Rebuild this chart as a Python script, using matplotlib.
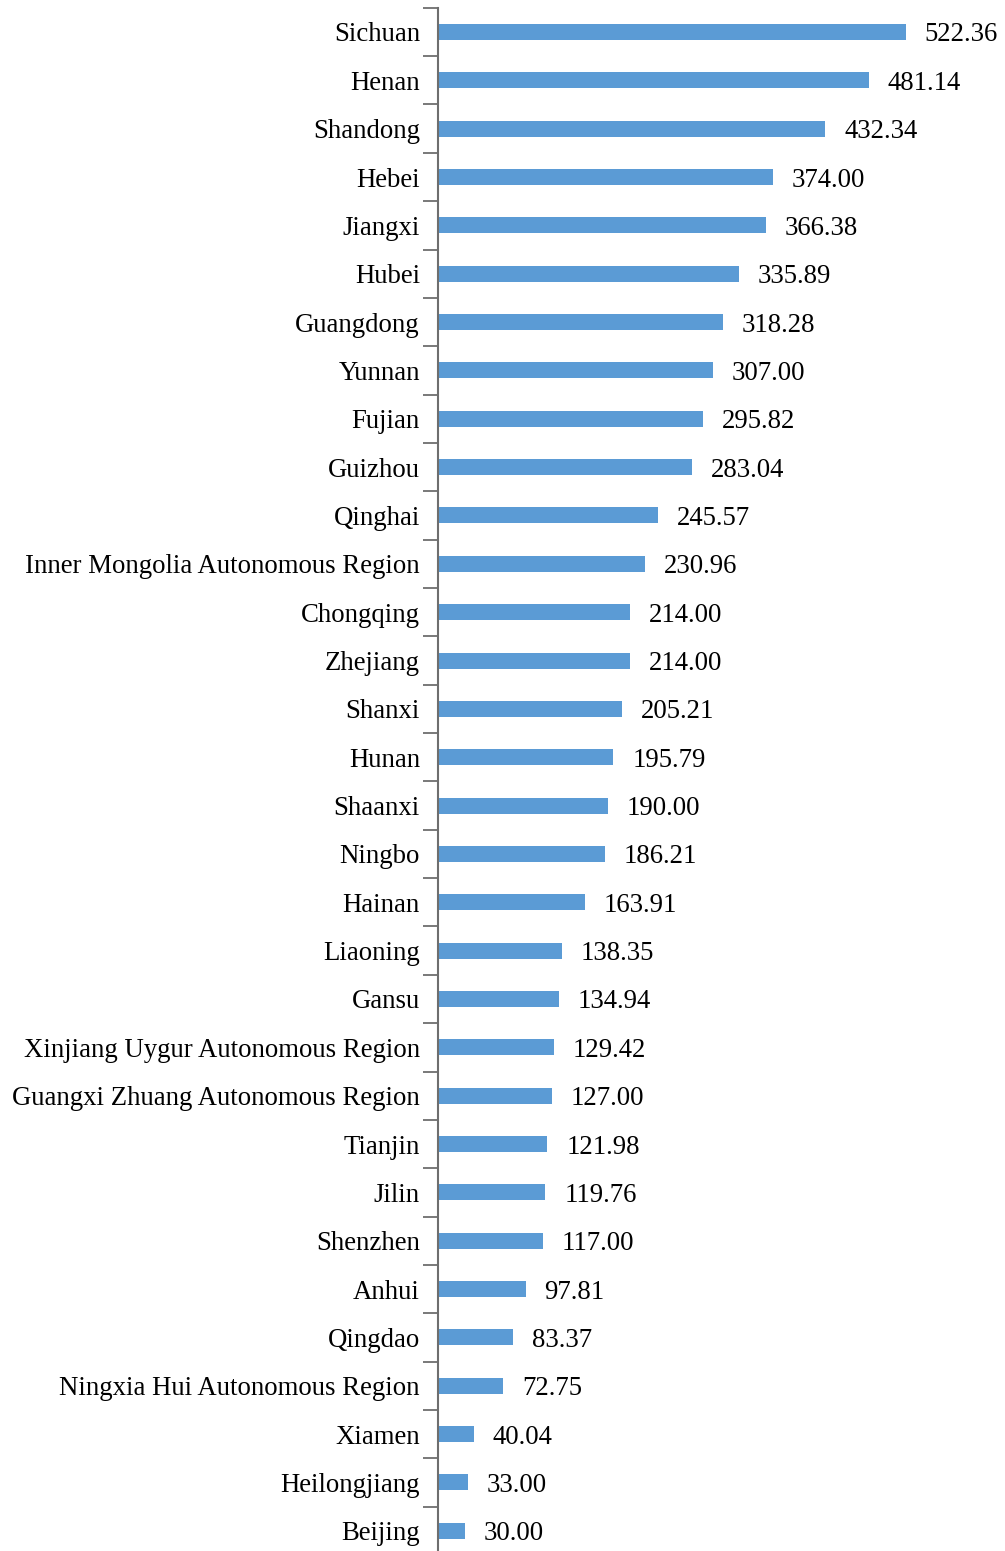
import numpy as np
import matplotlib.pyplot as plt

regions = ["Sichuan", "Henan", "Shandong", "Hebei", "Jiangxi", "Hubei", "Guangdong",
           "Yunnan", "Fujian", "Guizhou", "Qinghai", "Inner Mongolia Autonomous Region",
           "Chongqing", "Zhejiang", "Shanxi", "Hunan", "Shaanxi", "Ningbo", "Hainan",
           "Liaoning", "Gansu", "Xinjiang Uygur Autonomous Region",
           "Guangxi Zhuang Autonomous Region", "Tianjin", "Jilin", "Shenzhen", "Anhui",
           "Qingdao", "Ningxia Hui Autonomous Region", "Xiamen", "Heilongjiang", "Beijing"]
values = [522.36, 481.14, 432.34, 374.00, 366.38, 335.89, 318.28, 307.00, 295.82, 283.04,
          245.57, 230.96, 214.00, 214.00, 205.21, 195.79, 190.00, 186.21, 163.91, 138.35,
          134.94, 129.42, 127.00, 121.98, 119.76, 117.00, 97.81, 83.37, 72.75, 40.04,
          33.00, 30.00]

plt.rcParams['font.family'] = ['Liberation Serif', 'DejaVu Serif']

fig = plt.figure(figsize=(10.05, 15.51), dpi=100)
ax = fig.add_axes([438 / 1005, -4 / 1551, (1000 - 438) / 1005, (1551 - 7.8 + 4) / 1551])

y = np.arange(len(regions))
ax.barh(y, values, height=0.33, color='#5B9BD5')
for yi, v in zip(y, values):
    ax.text(v + 21, yi, f"{v:.2f}", va='center_baseline', ha='left', fontsize=19.3, color='black')

ax.set_ylim(len(regions) - 0.5, -0.5)
ax.set_xlim(0, (1000 - 438) / 0.896)
ax.set_yticks(y)
ax.set_yticklabels(regions, fontsize=19.3, va='center_baseline')
ax.set_yticks(np.arange(len(regions) + 1) - 0.5, minor=True)
ax.tick_params(axis='y', which='major', length=0, pad=13)
ax.tick_params(axis='y', which='minor', length=11, width=1.3, color='#6e6e6e')
ax.set_xticks([])
for side in ['top', 'right', 'bottom']:
    ax.spines[side].set_visible(False)
ax.spines['left'].set_color('#6e6e6e')
ax.spines['left'].set_linewidth(1.5)

fig.savefig('out.png', dpi=100)
